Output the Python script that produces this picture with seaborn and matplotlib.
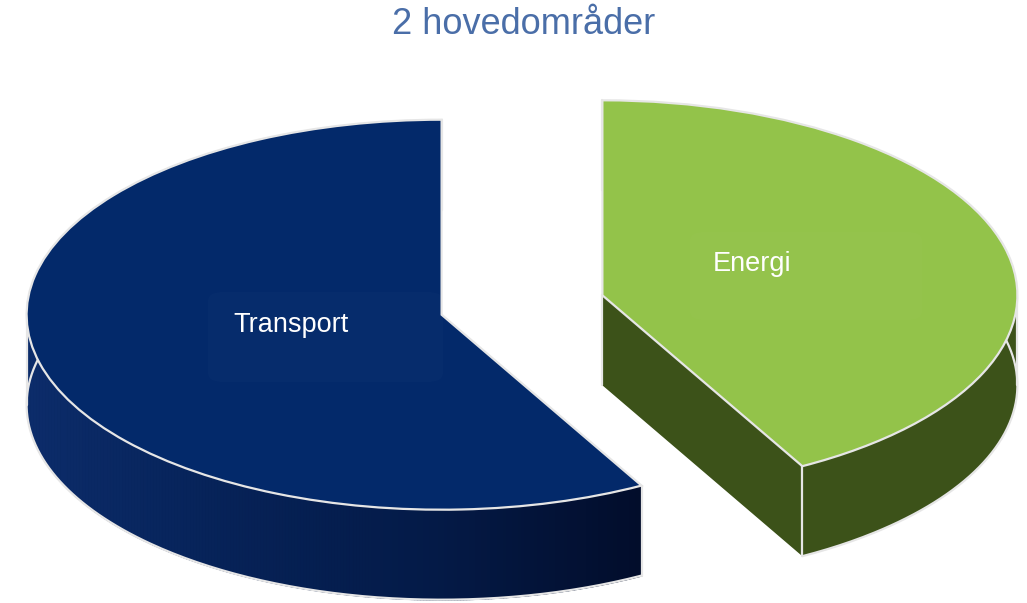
import numpy as np
import matplotlib
matplotlib.use("Agg")
import matplotlib.pyplot as plt
from matplotlib.patches import FancyBboxPatch
from matplotlib.colors import LinearSegmentedColormap
import seaborn as sns

# ---- data ----
categories = ["Energi", "Transport"]
values = [42, 58]
top_colors = ["#93c34a", "#03296a"]
wall_colors = ["#3c5219", "#061c4c"]
explode = [0.2, 0.2]
title = "2 hovedområder"

sns.set_theme(style="white")
plt.rcParams["font.family"] = ["Liberation Sans", "DejaVu Sans"]

W, H = 1027, 603
fig = plt.figure(figsize=(W / 100, H / 100), dpi=100)
ax = fig.add_axes([0, 0, 1, 1])

RX, RY = 415.0, 195.0          # ellipse radii in pixels
cx, cy = 522 / RX, (H - 305) / RY
depth = 90 / RY
n = 90
edge = "#e6e6e6"

common = dict(startangle=90, counterclock=False, explode=explode, radius=1)

# side walls: stacked pies
for k in range(n, 0, -1):
    off = depth * k / n
    ax.pie(values, colors=wall_colors, center=(cx, cy - off),
           wedgeprops=dict(linewidth=0, antialiased=True), **common)

# geometry of the wedges derived from the data
total = sum(values)
theta = 90.0
geo = []
for v, e in zip(values, explode):
    span = 360.0 * v / total
    t1, t2 = theta - span, theta
    mid = np.deg2rad((t1 + t2) / 2)
    vx, vy = cx + e * np.cos(mid), cy + e * np.sin(mid)
    geo.append((t1, t2, vx, vy))
    theta = t1

# horizontal shading on the front wall of the Transport slice
t1, t2, vx, vy = geo[1]
cmap = LinearSegmentedColormap.from_list("tw", ["#0c2c6a", "#062257", "#041a47", "#020d2b"])
x_lo = vx - 1.0
x_hi = vx + np.cos(np.deg2rad(t2))
m = 200
xs_edges = np.linspace(x_lo, x_hi, m + 1)
for i in range(m):
    xa, xb = xs_edges[i], xs_edges[i + 1]
    xx = np.linspace(xa, xb, 4)
    ytop = vy - np.sqrt(np.clip(1 - (xx - vx) ** 2, 0, 1))
    c = cmap(i / (m - 1))
    ax.fill_between(xx, ytop, ytop - depth, color=c, lw=0.6, edgecolor=c,
                    zorder=3.2)

# outline along the bottom of the walls
for (t1, t2, vx, vy) in geo:
    a = np.deg2rad(np.linspace(t1, t2, 300))
    ax.plot(vx + np.cos(a), vy + np.sin(a) - depth, color=edge, lw=1.6,
            zorder=3.4)

# vertical edges at wedge corners
for (t1, t2, vx, vy) in geo:
    pts = [(vx, vy)] + [(vx + np.cos(np.deg2rad(t)), vy + np.sin(np.deg2rad(t)))
                        for t in (t1, t2, 180, 0)]
    for (px, py) in pts:
        ax.plot([px, px], [py, py - depth], color=edge, lw=1.6, zorder=3.5)

# top faces
wedges, _ = ax.pie(values, colors=top_colors, center=(cx, cy),
                   wedgeprops=dict(linewidth=1.6, edgecolor=edge), **common)
for w in wedges:
    w.set_zorder(4)

ax.set_aspect("auto")
ax.set_xlim(0, W / RX)
ax.set_ylim(0, H / RY)
ax.axis("off")

# label boxes and labels
def fx(x):
    return x / W

def fy(y):
    return 1 - y / H

for (x0, y0, x1, y1) in [(208, 292, 443, 382), (690, 232, 922, 320)]:
    box = FancyBboxPatch((fx(x0), fy(y1)), fx(x1) - fx(x0), fy(y0) - fy(y1),
                         boxstyle="round,pad=0,rounding_size=0.015",
                         transform=fig.transFigure, facecolor="white",
                         alpha=0.015, edgecolor="none", zorder=5)
    fig.patches.append(box)

fig.text(fx(233), fy(325), "Transport", color="white", fontsize=19.5,
         ha="left", va="center", zorder=6)
fig.text(fx(713), fy(264), "Energi", color="white", fontsize=19.5,
         ha="left", va="center", zorder=6)

fig.text(fx(524), fy(25), title, color="#4a6ea8", fontsize=26,
         ha="center", va="center")

fig.savefig("out.png", dpi=100, facecolor="white")
